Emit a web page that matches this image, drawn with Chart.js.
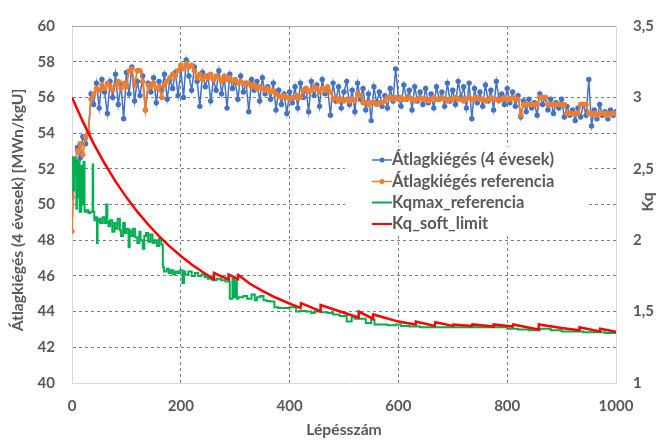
<!DOCTYPE html>
<html>
<head>
<meta charset="utf-8">
<script src="https://cdn.jsdelivr.net/npm/chart.js@4.4.1/dist/chart.umd.min.js"></script>
<style>
  body { margin: 0; background: #fff; }
  canvas { display: block; }
</style>
</head>
<body>
<canvas id="burnupChart" width="657" height="441"></canvas>
<script>
// step numbers for the two burnup series (every 5th step)
const steps = [];
for (let s = 0; s <= 1000; s += 5) steps.push(s);

// Átlagkiégés (4 évesek) [MWn/kgU]
const burnup4y = [
  50.4, 51.8, 53.2, 52.6, 53.8, 53.4, 54.0, 56.2, 55.6, 56.8, 55.4, 57.0, 56.3, 55.1, 56.9, 56.0, 57.3, 55.6, 56.7, 54.8,
  57.4, 56.2, 57.7, 55.8, 56.9, 56.1, 57.2, 55.3, 56.8, 56.3, 57.1, 55.7, 56.9, 56.4, 57.3, 55.9, 57.0, 56.5, 57.4, 56.1,
  57.6, 56.0, 58.1, 57.2, 56.4, 57.7, 56.9, 55.5, 57.4, 56.6, 57.2, 55.8, 57.0, 56.4, 57.5, 56.2, 57.1, 55.4, 57.3, 56.5,
  56.9, 55.9, 57.2, 56.3, 56.8, 55.2, 57.0, 56.4, 56.9, 55.8, 57.1, 56.2, 56.6, 55.9, 56.8, 55.3, 56.4, 55.6, 56.2, 55.1,
  56.3, 55.7, 56.6, 55.4, 56.8, 56.0, 56.5, 55.2, 56.9, 56.1, 56.7, 55.5, 57.0, 56.2, 56.5, 55.0, 56.8, 55.8, 56.6, 55.4,
  56.3, 56.9, 55.6, 56.4, 55.2, 56.8, 55.9, 56.5, 55.3, 56.2, 54.7, 56.6, 55.7, 56.3, 55.5, 56.1, 55.4, 56.5, 55.8, 57.6,
  56.0, 55.5, 56.7, 55.9, 56.4, 55.3, 56.6, 55.8, 56.3, 55.6, 56.5, 55.7, 56.2, 55.4, 56.6, 55.9, 56.3, 55.5, 56.8, 55.8,
  56.4, 55.6, 56.9, 56.0, 56.6, 55.4, 56.8, 54.8, 56.5, 55.7, 56.3, 55.5, 56.7, 55.8, 56.4, 55.3, 56.9, 55.9, 56.2, 55.6,
  56.5, 55.7, 56.3, 55.5, 56.1, 54.9, 55.8, 55.2, 55.9, 55.4, 55.7, 55.0, 56.2, 55.6, 56.0, 55.3, 55.9, 55.1, 55.7, 55.4,
  55.9, 54.9, 55.5, 55.0, 55.3, 54.7, 55.4, 54.9, 55.6, 55.0, 57.0, 54.4, 55.3, 54.8, 55.6, 55.0, 55.2, 54.8, 55.3, 55.0,
  55.2
];

// Átlagkiégés referencia [MWn/kgU]
const burnupRef = [
  48.5, 52.3, 53.0, 53.4, 52.8, 53.8, 54.0, 55.9, 56.2, 56.5, 56.4, 56.7, 56.5, 56.8, 56.6, 56.4, 56.7, 56.9, 56.5, 56.8,
  56.6, 57.5, 57.6, 56.7, 57.5, 57.5, 56.9, 55.3, 56.7, 56.6, 56.8, 56.5, 56.6, 56.0, 56.7, 56.9, 57.1, 57.3, 57.2, 57.5,
  57.8, 57.6, 57.9, 57.7, 57.8, 57.5, 57.1, 57.3, 57.0, 57.2, 57.1, 57.3, 57.0, 57.2, 57.1, 56.9, 57.2, 57.0, 57.1, 56.9,
  57.0, 56.8, 56.9, 56.8, 56.7, 56.8, 56.6, 56.7, 56.5, 56.6, 56.5, 56.4, 56.5, 56.3, 56.4, 56.2, 56.1, 56.0, 56.1, 56.0,
  55.9, 56.0, 56.0, 56.1, 56.0, 56.4, 56.5, 56.3, 56.4, 56.6, 56.5, 56.3, 56.5, 56.4, 56.6, 56.3, 55.9, 56.0, 55.8, 55.9,
  55.8, 55.9, 55.8, 55.9, 55.8, 56.2, 56.1, 55.7, 55.7, 55.6, 55.7, 55.7, 55.6, 55.7, 55.7, 55.8, 56.0, 56.0, 55.9, 56.0,
  55.9, 56.0, 55.9, 55.9, 56.0, 55.9, 55.8, 55.9, 56.0, 55.9, 55.9, 55.8, 55.9, 56.0, 55.9, 55.9, 56.0, 55.9, 55.8, 55.9,
  55.9, 56.0, 55.9, 55.9, 55.8, 55.9, 56.0, 55.9, 55.9, 56.0, 55.9, 55.9, 55.8, 55.9, 56.0, 55.9, 55.9, 55.8, 55.9, 56.0,
  55.9, 55.9, 56.0, 55.9, 55.9, 55.0, 55.6, 55.6, 55.6, 55.6, 55.6, 55.6, 56.0, 56.0, 56.0, 55.6, 55.6, 55.6, 55.6, 55.6,
  55.6, 55.6, 55.1, 55.1, 55.1, 55.1, 55.1, 55.6, 55.6, 55.6, 55.1, 55.1, 55.1, 55.0, 55.1, 55.1, 55.1, 55.0, 55.1, 55.1,
  55.1
];

// Kqmax_referencia (step line, right axis)
const kqmaxSteps = [
  0, 2, 4, 5, 8, 9, 11, 13, 14, 17, 19, 21, 23, 26, 30, 34, 38, 39, 41, 44,
  46, 47, 49, 52, 56, 60, 63, 65, 67, 70, 74, 78, 80, 84, 88, 90, 94, 97, 100, 104,
  106, 108, 112, 116, 120, 124, 126, 130, 133, 136, 140, 144, 148, 152, 156, 160, 164, 167, 169, 174,
  178, 182, 186, 190, 194, 198, 203, 206, 208, 214, 220, 226, 232, 238, 244, 250, 258, 266, 274, 282,
  290, 295, 298, 300, 303, 306, 315, 322, 330, 336, 340, 346, 352, 358, 364, 372, 379, 400, 412, 419,
  430, 440, 446, 458, 470, 480, 492, 505, 514, 520, 526, 540, 550, 556, 568, 580, 595, 605, 620, 640,
  660, 680, 700, 720, 740, 760, 780, 800, 820, 840, 860, 880, 900, 920, 940, 960, 980, 1000
];
const kqmaxValues = [
  2.59, 2.58, 2.35, 2.58, 2.55, 2.22, 2.56, 2.30, 2.55, 2.20, 2.52, 2.25, 2.55, 2.20, 2.21, 2.19, 2.20, 2.53, 2.20, 2.14,
  2.16, 1.98, 2.13, 2.15, 2.12, 2.16, 2.12, 2.25, 2.13, 2.10, 2.14, 2.06, 2.12, 2.08, 2.15, 2.07, 2.03, 2.12, 2.05, 2.08,
  1.95, 2.07, 2.03, 2.08, 2.02, 1.98, 2.06, 2.00, 1.94, 2.03, 2.05, 1.99, 2.04, 1.98, 2.00, 1.96, 2.01, 1.97, 1.81, 1.78,
  1.80, 1.77, 1.79, 1.76, 1.78, 1.77, 1.79, 1.70, 1.78, 1.76, 1.78, 1.75, 1.77, 1.75, 1.76, 1.74, 1.73, 1.72, 1.73, 1.72,
  1.71, 1.59, 1.73, 1.60, 1.72, 1.59, 1.60, 1.61, 1.59, 1.62, 1.58, 1.60, 1.61, 1.58, 1.575, 1.57, 1.53, 1.525, 1.53, 1.50,
  1.505, 1.50, 1.49, 1.50, 1.495, 1.49, 1.48, 1.47, 1.43, 1.46, 1.45, 1.45, 1.42, 1.445, 1.41, 1.41, 1.405, 1.41, 1.40, 1.395,
  1.39, 1.39, 1.39, 1.39, 1.39, 1.39, 1.39, 1.39, 1.38, 1.375, 1.37, 1.38, 1.37, 1.36, 1.36, 1.355, 1.355, 1.35
];

// Kq_soft_limit (right axis)
const softSteps = [
  0, 20, 40, 60, 80, 100, 120, 140, 160, 180, 200, 220, 240, 260, 261, 287, 288, 305, 306, 327,
  350, 375, 400, 420, 421, 440, 456, 457, 490, 526, 527, 553, 554, 600, 631, 632, 667, 668, 700, 701,
  735, 736, 774, 775, 810, 811, 857, 858, 900, 932, 933, 970, 971, 1000
];
const softValues = [
  3.00, 2.83, 2.675, 2.537, 2.412, 2.30, 2.20, 2.11, 2.028, 1.955, 1.889, 1.83, 1.777, 1.729, 1.771, 1.725, 1.76, 1.728, 1.756, 1.695,
  1.645, 1.597, 1.556, 1.525, 1.559, 1.53, 1.503, 1.546, 1.504, 1.459, 1.50, 1.45, 1.48, 1.43, 1.41, 1.43, 1.40, 1.425, 1.40, 1.41,
  1.40, 1.41, 1.395, 1.41, 1.395, 1.41, 1.375, 1.41, 1.385, 1.37, 1.39, 1.36, 1.38, 1.358
];

// axis ticks
const stepTicks = [0, 200, 400, 600, 800, 1000];
const burnupTicks = [40, 42, 44, 46, 48, 50, 52, 54, 56, 58, 60];
const kqTicks = [1, 1.5, 2, 2.5, 3, 3.5];

const seriesNames = ['Átlagkiégés (4 évesek)', 'Átlagkiégés referencia', 'Kqmax_referencia', 'Kq_soft_limit'];
const seriesColors = ['#4472C4', '#ED7D31', '#00B050', '#FF0000'];

const textColor = '#595959';
const fontFamily = 'Lato, "Open Sans", sans-serif';

function toPoints(xs, ys) {
  return xs.map((x, i) => ({ x: x, y: ys[i] }));
}

function setTicks(values) {
  return function(scale) {
    scale.ticks = values.map(v => ({ value: v }));
  };
}

// legend box and the Kq / left axis titles drawn on top
const overlayPlugin = {
  id: 'overlay',
  afterDraw(chart) {
    const ctx = chart.ctx;
    const area = chart.chartArea;
    ctx.save();

    // solid top border
    ctx.strokeStyle = '#a6a6a6';
    ctx.lineWidth = 1;
    ctx.beginPath();
    ctx.moveTo(area.left, Math.round(area.top) + 0.5);
    ctx.lineTo(area.right, Math.round(area.top) + 0.5);
    ctx.stroke();

    // legend
    ctx.fillStyle = '#fff';
    ctx.fillRect(345, 147, 242, 88);
    ctx.font = 'bold 16.5px ' + fontFamily;
    ctx.textBaseline = 'middle';
    ctx.textAlign = 'left';
    const rowY = [160, 181.5, 202.5, 224];
    seriesNames.forEach((name, i) => {
      const y = rowY[i];
      ctx.strokeStyle = seriesColors[i];
      ctx.lineWidth = i < 2 ? 1.5 : 2;
      ctx.beginPath();
      ctx.moveTo(372, y);
      ctx.lineTo(392, y);
      ctx.stroke();
      if (i < 2) {
        ctx.fillStyle = seriesColors[i];
        ctx.beginPath();
        ctx.arc(382, y, 2.5, 0, Math.PI * 2);
        ctx.fill();
      }
      ctx.fillStyle = textColor;
      ctx.fillText(name, 392, y);
    });

    // vertical axis titles
    ctx.fillStyle = textColor;
    ctx.textAlign = 'center';
    ctx.font = 'bold 15.7px ' + fontFamily;
    ctx.save();
    ctx.translate(18, 210);
    ctx.rotate(-Math.PI / 2);
    ctx.fillText('Átlagkiégés (4 évesek) [MWn/kgU]', 0, 0);
    ctx.restore();
    ctx.save();
    ctx.translate(648, 202);
    ctx.rotate(-Math.PI / 2);
    ctx.fillText('Kq', 0, 0);
    ctx.restore();

    ctx.restore();
  }
};

const tickFont = { family: fontFamily, size: 15, weight: 'bold' };
const titleFont = { family: fontFamily, size: 15.7, weight: 'bold' };

new Chart(document.getElementById('burnupChart').getContext('2d'), {
  type: 'line',
  data: {
    datasets: [
      {
        label: seriesNames[0],
        data: toPoints(steps, burnup4y),
        yAxisID: 'y',
        borderColor: seriesColors[0],
        backgroundColor: seriesColors[0],
        borderWidth: 1.5,
        pointRadius: 2.7,
        pointBorderWidth: 0,
        order: 3
      },
      {
        label: seriesNames[1],
        data: toPoints(steps, burnupRef),
        yAxisID: 'y',
        borderColor: seriesColors[1],
        backgroundColor: seriesColors[1],
        borderWidth: 1.8,
        pointRadius: 2.7,
        pointBorderWidth: 0,
        order: 2
      },
      {
        label: seriesNames[2],
        data: toPoints(kqmaxSteps, kqmaxValues),
        yAxisID: 'y1',
        borderColor: seriesColors[2],
        borderWidth: 2,
        stepped: 'after',
        pointRadius: 0,
        order: 1
      },
      {
        label: seriesNames[3],
        data: toPoints(softSteps, softValues),
        yAxisID: 'y1',
        borderColor: seriesColors[3],
        borderWidth: 2.5,
        pointRadius: 0,
        tension: 0,
        order: 0
      }
    ]
  },
  options: {
    responsive: false,
    animation: false,
    layout: { padding: { top: 17, left: 0, right: 0, bottom: 0 } },
    plugins: {
      legend: { display: false },
      tooltip: { enabled: false }
    },
    scales: {
      x: {
        type: 'linear',
        min: 0,
        max: 1000,
        afterBuildTicks: setTicks(stepTicks),
        afterFit(scale) { scale.height = 58; },
        grid: { color: '#7f7f7f', drawTicks: false },
        border: { color: '#d9d9d9', dash: [3, 3] },
        ticks: { font: tickFont, color: textColor, padding: 14, maxRotation: 0, callback: v => String(v) },
        title: {
          display: true,
          text: 'Lépésszám',
          font: titleFont,
          color: textColor,
          padding: { top: 0, bottom: 2 }
        }
      },
      y: {
        position: 'left',
        min: 40,
        max: 60,
        afterBuildTicks: setTicks(burnupTicks),
        afterFit(scale) { scale.width = 72; },
        grid: { color: '#7f7f7f', drawTicks: false },
        border: { color: '#d9d9d9', dash: [3, 3] },
        ticks: { font: tickFont, color: textColor, padding: 17, callback: v => String(v) }
      },
      y1: {
        position: 'right',
        min: 1,
        max: 3.5,
        afterBuildTicks: setTicks(kqTicks),
        afterFit(scale) { scale.width = 41; },
        grid: { drawOnChartArea: false, drawTicks: false },
        border: { color: '#d9d9d9' },
        ticks: {
          font: tickFont,
          color: textColor,
          padding: 17,
          callback: v => String(v).replace('.', ',')
        }
      }
    }
  },
  plugins: [overlayPlugin]
});
</script>
</body>
</html>
